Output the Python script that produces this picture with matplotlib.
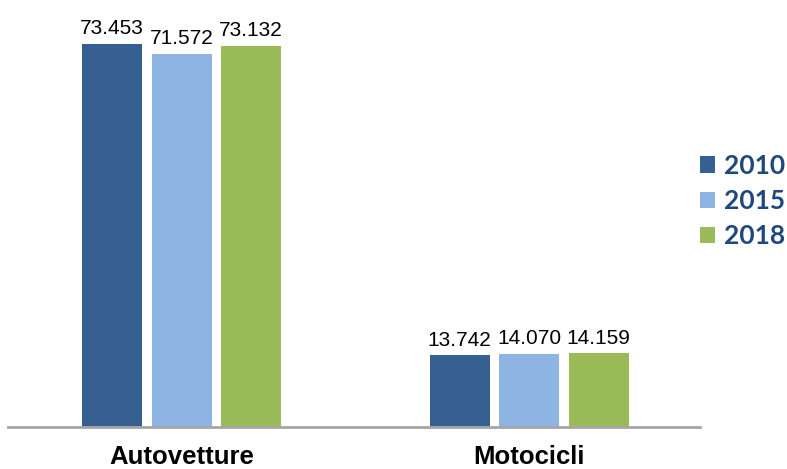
import matplotlib
matplotlib.use("Agg")
import matplotlib.pyplot as plt
import numpy as np

categories = ["Autovetture", "Motocicli"]
years = ["2010", "2015", "2018"]
values_2010 = [73453, 13742]
values_2015 = [71572, 14070]
values_2018 = [73132, 14159]
colors = ["#376092", "#8EB4E3", "#9BBB59"]

W, H = 787, 469
fig = plt.figure(figsize=(W / 100, H / 100), dpi=100)
ax = fig.add_axes([8 / W, 42 / H, 692 / W, 427 / H])

x = np.arange(len(categories))
bw = 0.1727
step = 0.2
series = [values_2010, values_2015, values_2018]
for i, (vals, yr, col) in enumerate(zip(series, years, colors)):
    bars = ax.bar(x + (i - 1) * step, vals, width=bw, color=col, label=yr, zorder=2)
    ax.bar_label(bars, labels=[f"{v:,}".replace(",", ".") for v in vals],
                 padding=4, fontsize=15, family="Liberation Sans", color="black")

ax.set_xlim(-0.5, 1.492)
ax.set_ylim(0, 73453 * 427 / 383)
for s in ["top", "right", "left"]:
    ax.spines[s].set_visible(False)
ax.spines["bottom"].set_color("#A6A6A6")
ax.spines["bottom"].set_linewidth(2)
ax.set_yticks([])
ax.set_xticks(x)
ax.set_xticklabels(categories, fontsize=18.5, fontweight="bold", family="Liberation Sans")
ax.tick_params(axis="x", length=0, pad=13)

leg = ax.legend(loc="center left", bbox_to_anchor=(700 / W, (H - 201) / H),
                bbox_transform=fig.transFigure, frameon=False,
                prop={"family": "Lato", "weight": "bold", "size": 19},
                handlelength=0.57, handleheight=0.57, handletextpad=0.35,
                labelspacing=0.42, borderpad=0, borderaxespad=0)
for t in leg.get_texts():
    t.set_color("#1F497D")

fig.savefig("out.png", dpi=100)
